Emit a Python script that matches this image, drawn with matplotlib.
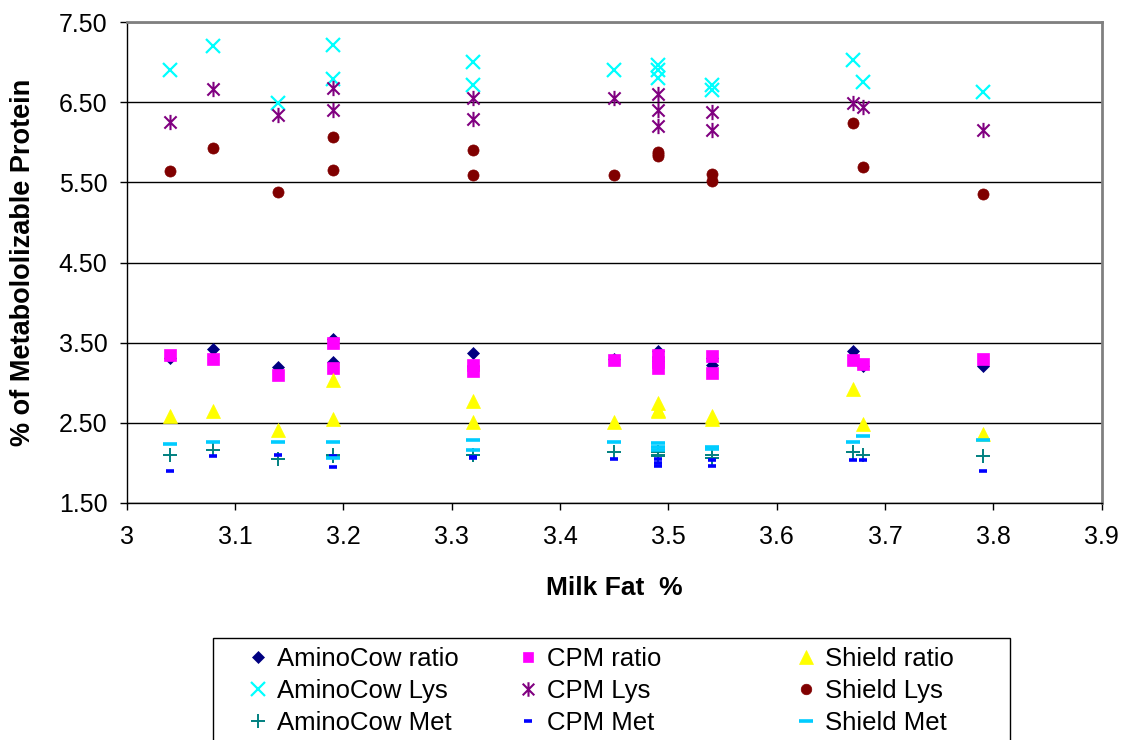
import matplotlib
matplotlib.use("Agg")
import matplotlib.pyplot as plt
from matplotlib.path import Path
from matplotlib.patches import Rectangle
from matplotlib.ticker import FormatStrFormatter, FixedLocator

plt.rcParams['font.family'] = ['Liberation Sans', 'DejaVu Sans']

# ---------------- data ----------------
milk_fat = [3.04, 3.08, 3.14, 3.19, 3.19, 3.32, 3.32, 3.45, 3.49, 3.49, 3.49, 3.54, 3.54, 3.67, 3.68, 3.79]

aminocow_ratio = [3.31, 3.42, 3.20, 3.54, 3.26, 3.37, 3.21, 3.29, 3.39, 3.32, 3.27, 3.31, 3.22, 3.39, 3.21, 3.21]
cpm_ratio      = [3.35, 3.30, 3.09, 3.49, 3.18, 3.22, 3.15, 3.28, 3.34, 3.26, 3.18, 3.33, 3.12, 3.28, 3.23, 3.30]
shield_ratio   = [2.58, 2.65, 2.41, 3.03, 2.55, 2.77, 2.51, 2.51, 2.75, 2.66, 2.64, 2.58, 2.55, 2.92, 2.48, 2.36]
aminocow_lys   = [6.91, 7.20, 6.49, 7.22, 6.79, 7.01, 6.72, 6.90, 6.97, 6.90, 6.80, 6.72, 6.65, 7.03, 6.75, 6.63]
cpm_lys        = [6.25, 6.67, 6.34, 6.68, 6.41, 6.55, 6.29, 6.55, 6.60, 6.41, 6.20, 6.38, 6.15, 6.49, 6.44, 6.15]
shield_lys     = [5.64, 5.93, 5.38, 6.07, 5.66, 5.90, 5.59, 5.59, 5.88, 5.85, 5.83, 5.60, 5.52, 6.24, 5.69, 5.36]
aminocow_met   = [2.10, 2.16, 2.05, 2.09, 2.08, 2.10, 2.09, 2.13, 2.13, 2.10, 2.08, 2.10, 2.06, 2.13, 2.10, 2.08]
cpm_met        = [1.90, 2.08, 2.10, 2.08, 1.95, 2.06, 2.07, 2.05, 2.04, 2.00, 1.96, 2.03, 1.96, 2.03, 2.03, 1.90]
shield_met     = [2.23, 2.26, 2.26, 2.26, 2.06, 2.28, 2.16, 2.26, 2.25, 2.20, 2.16, 2.19, 2.17, 2.26, 2.33, 2.28]

series_labels = ["AminoCow ratio", "CPM ratio", "Shield ratio",
                 "AminoCow Lys", "CPM Lys", "Shield Lys",
                 "AminoCow Met", "CPM Met", "Shield Met"]

x_ticks = [3.0, 3.1, 3.2, 3.3, 3.4, 3.5, 3.6, 3.7, 3.8, 3.9]
x_tick_labels = ["3", "3.1", "3.2", "3.3", "3.4", "3.5", "3.6", "3.7", "3.8", "3.9"]
y_ticks = [1.5, 2.5, 3.5, 4.5, 5.5, 6.5, 7.5]

x_title = "Milk Fat  %"
y_title = "% of Metabololizable Protein"

# ---------------- styles ----------------
star = Path([(-1, -1), (1, 1), (-1, 1), (1, -1), (0, -1.25), (0, 1.25)],
            [Path.MOVETO, Path.LINETO, Path.MOVETO, Path.LINETO, Path.MOVETO, Path.LINETO])

styles = [
    dict(marker='D', ms=6.5, mfc='#000080', mec='#000080', mew=0.5),
    dict(marker='s', ms=8, mfc='#FF00FF', mec='#FF00FF', mew=0.5),
    dict(marker='^', ms=10, mfc='#FFFF00', mec='#FFFF00', mew=0.5),
    dict(marker='x', ms=10, mfc='none', mec='#00FFFF', mew=1.6),
    dict(marker=star, ms=11, mfc='none', mec='#800080', mew=1.5),
    dict(marker='o', ms=8, mfc='#800000', mec='#800000', mew=0.5),
    dict(marker='+', ms=10, mfc='none', mec='#008080', mew=1.4),
    dict(marker='_', ms=5.5, mfc='#0000FF', mec='#0000FF', mew=2.6),
    dict(marker='_', ms=10, mfc='#00CCFF', mec='#00CCFF', mew=2.6),
]

values = [aminocow_ratio, cpm_ratio, shield_ratio,
          aminocow_lys, cpm_lys, shield_lys,
          aminocow_met, cpm_met, shield_met]

# ---------------- figure ----------------
W, H = 1130, 740
fig = plt.figure(figsize=(W / 100, H / 100), dpi=100)
left, right, top, bottom = 126.7, 1101.7, 22.3, 502.7
ax = fig.add_axes([left / W, 1 - bottom / H, (right - left) / W, (bottom - top) / H])

handles = []
for lab, y, st in zip(series_labels, values, styles):
    h, = ax.plot(milk_fat, y, linestyle='none', label=lab, **st)
    handles.append(h)

ax.set_xlim(3.0, 3.9)
ax.set_ylim(1.5, 7.5)
ax.xaxis.set_major_locator(FixedLocator(x_ticks))
ax.set_xticklabels(x_tick_labels)
ax.yaxis.set_major_locator(FixedLocator(y_ticks))
ax.yaxis.set_major_formatter(FormatStrFormatter('%.2f'))
ax.tick_params(axis='both', direction='out', length=5, width=1, color='black',
               labelsize=18, labelcolor='black')
ax.tick_params(axis='y', pad=9)
ax.tick_params(axis='x', pad=11)

ax.grid(axis='y', color='black', linewidth=1.0)
ax.set_axisbelow(True)
for s in ['top', 'right']:
    ax.spines[s].set_color('#808080')
    ax.spines[s].set_linewidth(2)
for s in ['left', 'bottom']:
    ax.spines[s].set_color('black')
    ax.spines[s].set_linewidth(1.0)

ax.set_xlabel(x_title, fontsize=19, fontweight='bold')
ax.set_ylabel(y_title, fontsize=19.5, fontweight='bold')
ax.xaxis.set_label_coords(((left + right) / 2 - left) / (right - left), -(588 - bottom) / (bottom - top))
ax.xaxis.label.set_va('center')
ax.yaxis.set_label_coords(-(left - 23) / (right - left), 0.5)
ax.yaxis.label.set_va('center')
ax.yaxis.label.set_ha('center')

# ---------------- legend ----------------
frame = Rectangle((213 / W, -0.05), (1010 - 213) / W, 0.05 + 1 - 638 / H,
                  transform=fig.transFigure, facecolor='white', edgecolor='black',
                  linewidth=1.0, clip_on=False)
fig.add_artist(frame)

col_x = [245, 515, 793]
for c in range(3):
    hs = [handles[c], handles[c + 3], handles[c + 6]]
    leg = fig.legend(handles=hs, labels=[h.get_label() for h in hs],
                     loc='upper left', bbox_to_anchor=(col_x[c] / W, 1 - 647 / H),
                     frameon=False, fontsize=18.5, borderpad=0, borderaxespad=0,
                     handlelength=1.0, handletextpad=0.25, labelspacing=0.32,
                     markerscale=0.95)

fig.savefig("out.png", dpi=100)
